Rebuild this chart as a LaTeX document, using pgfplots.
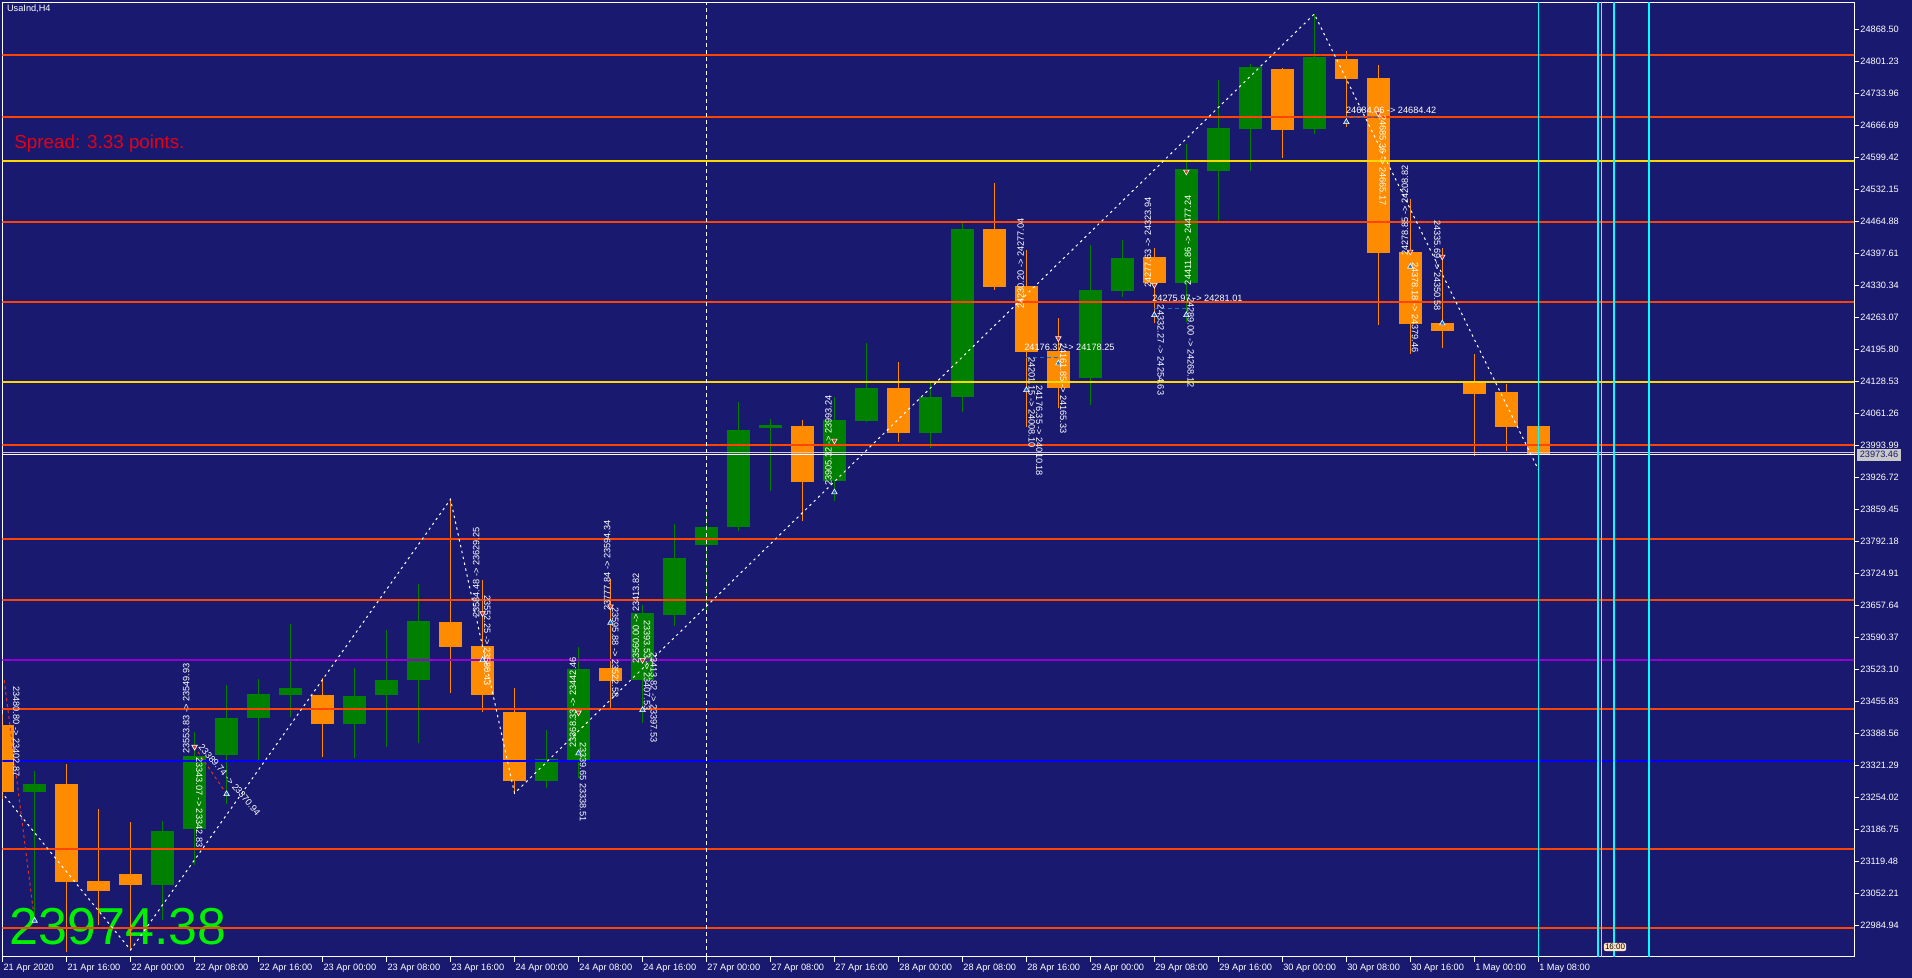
\documentclass[border=0pt]{standalone}
\usepackage{pgfplots}
\pgfplotsset{compat=1.18}
\usepackage{pgfplotstable}
\usepackage{fontspec}
\setmainfont{Liberation Sans}

\definecolor{bgnavy}{RGB}{25,25,112}
\definecolor{bull}{RGB}{0,128,0}
\definecolor{bear}{RGB}{255,140,0}
\definecolor{lvlred}{RGB}{255,69,0}
\definecolor{lvlgold}{RGB}{255,215,0}
\definecolor{lvlviolet}{RGB}{148,0,211}
\definecolor{lvlblue}{RGB}{0,0,255}
\definecolor{vcyan}{RGB}{0,255,255}
\definecolor{bidline}{RGB}{216,191,216}
\definecolor{spread}{RGB}{230,0,20}
\definecolor{bignum}{RGB}{0,240,0}
\definecolor{arrblue}{RGB}{30,110,200}
\definecolor{arrred}{RGB}{220,50,30}

\newcommand{\tf}{\fontsize{4.6}{5}\selectfont}

% H4 candles, n = bar index (0 = 21 Apr 08:00)
\pgfplotstableread{
n o h l c
1 23265.8 23309.3 23005.0 23282.0
5 23070.3 23204.2 22996.1 23183.2
6 23186.7 23390.7 23111.7 23341.4
7 23343.6 23489.4 23239.3 23420.7
8 23421.4 23502.6 23330.3 23471.2
9 23469.7 23618.3 23423.5 23483.8
11 23408.8 23525.2 23337.3 23466.9
12 23469.7 23605.7 23360.4 23500.6
13 23501.2 23702.4 23368.8 23624.7
17 23288.9 23395.5 23272.9 23334.5
18 23331.0 23569.3 23293.9 23523.7
20 23501.2 23658.0 23410.2 23641.5
21 23637.9 23828.6 23614.8 23757.1
22 23784.4 23858.0 23640.8 23822.3
23 23822.9 24085.0 23814.5 24026.2
24 24031.0 24049.3 23898.6 24036.7
26 23919.6 24094.9 23877.5 24047.2
27 24045.7 24208.4 24043.6 24114.4
29 24020.5 24127.0 23987.7 24095.5
30 24096.2 24462.0 24064.6 24448.3
34 24136.1 24414.4 24078.7 24320.5
35 24319.0 24425.6 24306.4 24387.7
37 24335.8 24627.4 24253.8 24574.8
38 24570.6 24761.9 24461.9 24661.0
39 24658.9 24795.6 24570.6 24789.2
41 24658.9 24900.7 24648.4 24810.3
}\bull
\pgfplotstableread{
n o h l c
0 23406.0 23430.0 23250.0 23265.8
2 23282.0 23324.0 22929.4 23076.6
3 23078.0 23228.8 22985.6 23057.6
4 23092.8 23201.4 22933.0 23070.3
10 23469.1 23504.2 23339.3 23408.8
14 23622.5 23880.4 23472.6 23570.6
15 23572.1 23710.8 23434.0 23469.7
16 23433.3 23483.1 23262.4 23288.9
19 23525.8 23712.9 23441.1 23499.1
25 24034.6 24047.2 23835.5 23917.5
28 24114.4 24169.1 24001.6 24020.5
31 24448.7 24545.0 24320.5 24327.4
32 24328.9 24404.5 24033.1 24190.8
33 24191.6 24261.0 24071.8 24115.1
36 24389.8 24408.7 24250.5 24335.8
40 24785.0 24786.5 24598.6 24656.8
42 24806.1 24822.9 24663.8 24764.0
43 24766.1 24793.5 24246.9 24398.3
44 24399.7 24511.8 24185.3 24249.0
45 24251.1 24408.1 24197.9 24234.3
46 24125.6 24186.0 23971.4 24102.5
47 24106.1 24122.9 23982.6 24033.1
48 24034.6 24040.0 23943.5 23973.46
}\bear

\pgfplotsset{
  wick/.style={draw=none, mark=none, forget plot,
    error bars/.cd, y dir=both, y explicit, error mark=none,
    error bar style={draw=#1, line width=0.5pt}},
  body/.style={draw=none, mark=none, forget plot,
    error bars/.cd, y dir=both, y explicit, error mark=none,
    error bar style={draw=#1, line width=11.35pt}},
  level/.style={draw=#1, line width=1pt, mark=none, forget plot},
}

\begin{document}
\begin{tikzpicture}[x=0.5pt,y=0.5pt]
\useasboundingbox (0,0) rectangle (1912,978);
\fill[bgnavy] (0,0) rectangle (1912,978);

% texts that the chart draws behind the bars
\node[anchor=west, inner sep=0pt, text=white, font=\tf] at (6.7,969) {UsaInd,H4};
\node[anchor=base west, inner sep=0pt, text=spread, font=\fontsize{9.4}{10}\selectfont] at (14,829) {Spread: 3.33 points.};
\node[anchor=base west, inner sep=0pt, text=bignum, font=\fontsize{26}{26}\selectfont] at (9.3,33) {23974.38};

\begin{axis}[
  at={(1.15pt,10.5pt)}, anchor=south west,
  scale only axis, width=925.85pt, height=477.35pt,
  xmin=-0.01, xmax=57.87, ymin=22918.3, ymax=24925.3,
  axis line style={white, line width=0.5pt},
  tick style={white, line width=0.5pt},
  tick align=outside, major tick length=2.5pt,
  xtick pos=left, ytick pos=right, yticklabel pos=right,
  xtick={0,2,...,48},
  xticklabels={21 Apr 2020,21 Apr 16:00,22 Apr 00:00,22 Apr 08:00,22 Apr 16:00,
    23 Apr 00:00,23 Apr 08:00,23 Apr 16:00,24 Apr 00:00,24 Apr 08:00,24 Apr 16:00,
    27 Apr 00:00,27 Apr 08:00,27 Apr 16:00,28 Apr 00:00,28 Apr 08:00,28 Apr 16:00,
    29 Apr 00:00,29 Apr 08:00,29 Apr 16:00,30 Apr 00:00,30 Apr 08:00,30 Apr 16:00,
    1 May 00:00,1 May 08:00},
  ytick={24868.50,24801.23,24733.96,24666.69,24599.42,24532.15,24464.88,24397.61,
    24330.34,24263.07,24195.80,24128.53,24061.26,23993.99,23926.72,23859.45,
    23792.18,23724.91,23657.64,23590.37,23523.10,23455.83,23388.56,23321.29,
    23254.02,23186.75,23119.48,23052.21,22984.94},
  yticklabels={24868.50,24801.23,24733.96,24666.69,24599.42,24532.15,24464.88,24397.61,
    24330.34,24263.07,24195.80,24128.53,24061.26,23993.99,23926.72,23859.45,
    23792.18,23724.91,23657.64,23590.37,23523.10,23455.83,23388.56,23321.29,
    23254.02,23186.75,23119.48,23052.21,22984.94},
  xticklabel style={font=\tf, text=white, anchor=north west, inner sep=0pt, xshift=0.3pt, yshift=-1pt},
  yticklabel style={font=\tf, text=white, anchor=west, inner sep=0pt, xshift=0.5pt},
  clip=true,
]

% wicks and bodies
\addplot[wick=bull] table[x=n, y expr={(\thisrow{h}+\thisrow{l})/2}, y error expr={(\thisrow{h}-\thisrow{l})/2}] {\bull};
\addplot[wick=bear] table[x=n, y expr={(\thisrow{h}+\thisrow{l})/2}, y error expr={(\thisrow{h}-\thisrow{l})/2}] {\bear};
\addplot[body=bull] table[x=n, y expr={(\thisrow{o}+\thisrow{c})/2}, y error expr={abs(\thisrow{c}-\thisrow{o})/2}] {\bull};
\addplot[body=bear] table[x=n, y expr={(\thisrow{o}+\thisrow{c})/2}, y error expr={abs(\thisrow{c}-\thisrow{o})/2}] {\bear};

% horizontal levels
\addplot[level=lvlred] coordinates {(-1,24815.0) (60,24815.0)};
\addplot[level=lvlred] coordinates {(-1,24684.8) (60,24684.8)};
\addplot[level=lvlgold] coordinates {(-1,24592.3) (60,24592.3)};
\addplot[level=lvlred] coordinates {(-1,24462.8) (60,24462.8)};
\addplot[level=lvlred] coordinates {(-1,24295.9) (60,24295.9)};
\addplot[level=lvlgold] coordinates {(-1,24127.7) (60,24127.7)};
\addplot[level=lvlred] coordinates {(-1,23995.3) (60,23995.3)};
\addplot[level=lvlred] coordinates {(-1,23797.6) (60,23797.6)};
\addplot[level=lvlred] coordinates {(-1,23669.3) (60,23669.3)};
\addplot[level=lvlviolet] coordinates {(-1,23542.6) (60,23542.6)};
\addplot[level=lvlred] coordinates {(-1,23440.3) (60,23440.3)};
\addplot[level=lvlblue] coordinates {(-1,23331.0) (60,23331.0)};
\addplot[level=lvlred] coordinates {(-1,23146.0) (60,23146.0)};
\addplot[level=lvlred] coordinates {(-1,22980.0) (60,22980.0)};
% bid / ask
\addplot[draw=bidline, line width=0.5pt, forget plot] coordinates {(-1,23978.5) (60,23978.5)};
\addplot[draw=white, line width=0.5pt, forget plot] coordinates {(-1,23974.3) (60,23974.3)};

% vertical lines
\addplot[draw=white, line width=0.5pt, dash pattern=on 2pt off 1.5pt, forget plot] coordinates {(22,22800) (22,25000)};
\addplot[draw=vcyan, line width=0.5pt, forget plot] coordinates {(48,22800) (48,25000)};
\addplot[draw=vcyan, line width=0.9pt, forget plot] coordinates {(49.86,22800) (49.86,25000)};
\addplot[draw=bidline, line width=0.6pt, forget plot] coordinates {(49.98,22800) (49.98,25000)};
\addplot[draw=vcyan, line width=0.9pt, forget plot] coordinates {(50.36,22800) (50.36,25000)};
\addplot[draw=vcyan, line width=0.9pt, forget plot] coordinates {(51.47,22800) (51.47,25000)};

% zigzag
\addplot[draw=white, line width=0.5pt, dash pattern=on 1.2pt off 1.8pt, forget plot]
  coordinates {(-1,23344) (4,22933.0) (14,23880.4) (16,23262.4) (41,24900.7) (48,23943.5)};

% trade lines
\addplot[draw=arrred, line width=0.5pt, dash pattern=on 1.5pt off 1.5pt, forget plot] coordinates {(0.05,23500) (0.97,23010)};
\addplot[draw=arrred, line width=0.5pt, dash pattern=on 1.5pt off 1.5pt, forget plot] coordinates {(6,23360) (7,23261)};
\addplot[draw=arrblue, line width=0.5pt, dash pattern=on 2pt off 1.5pt, forget plot] coordinates {(32,24179) (33,24179)};
\addplot[draw=arrblue, line width=0.5pt, dash pattern=on 2pt off 1.5pt, forget plot] coordinates {(36,24282) (37,24282)};
\addplot[draw=arrblue, line width=0.5pt, dash pattern=on 2pt off 1.5pt, forget plot] coordinates {(42,24683) (43,24683)};

% deal arrows
\addplot[only marks, mark=triangle*, mark size=1.6pt, mark options={fill=arrblue, draw=white, line width=0.3pt}, forget plot]
  coordinates {(1,22994.6) (7,23260.9) (26,23895.2) (42,24673.6) (44,24369.5) (18,23346.5)
    (33,24166.3) (32,24110.3) (36,24267.9) (37,24267.9) (45,24250.4) (20,23437.5) (19,23621) (15,23542.6)};
\addplot[only marks, mark=triangle*, mark size=1.6pt, mark options={fill=arrred, draw=white, line width=0.3pt, rotate=180}, forget plot]
  coordinates {(6,23360) (26,24003.7) (37,24569.2) (45,24390.5) (44,24401) (18,23432)
    (15,23640.8) (19,23655) (20,23542.6) (33,24218.9) (36,24331) (43,24691.9)};

% deal texts
\begin{scope}[every node/.style={text=white, font=\tf, inner sep=0pt}]
\node[anchor=west] at (axis cs:41.98,24697.4) {24684.06 -> 24684.42};
\node[anchor=east] at (axis cs:38.77,24303.6) {24275.97 -> 24281.01};
\node[anchor=east] at (axis cs:34.77,24199.2) {24176.37 -> 24178.25};
\node[anchor=west, rotate=-90] at (axis cs:43.14,24688.3) {24685.36 -> 24665.17};
\node[anchor=west, rotate=-90] at (axis cs:44.15,24379.3) {24378.18 -> 24379.46};
\node[anchor=west, rotate=-90] at (axis cs:37.14,24305.8) {24289.00 -> 24268.12};
\node[anchor=east, rotate=90] at (axis cs:31.82,24471.8) {24230.20 -> 24277.04};
\node[anchor=east, rotate=90] at (axis cs:25.81,24099.7) {23905.32 -> 23993.24};
\node[anchor=east, rotate=90] at (axis cs:35.80,24516.0) {24277.63 -> 24323.94};
\node[anchor=west, rotate=-90] at (axis cs:0.43,23488.0) {23480.80 -> 23402.87};
\node[anchor=west, rotate=-90] at (axis cs:15.15,23679.3) {23552.25 -> 23580.43};
\node[anchor=east, rotate=90] at (axis cs:14.80,23822.2) {23584.48 -> 23629.25};
\node[anchor=west, rotate=-90] at (axis cs:18.14,23370.3) {23339.65 23338.51};
\node[anchor=east, rotate=90] at (axis cs:17.83,23549.6) {23368.33 -> 23442.46};
\node[anchor=west, rotate=-90] at (axis cs:20.14,23626.7) {23393.53 -> 23407.53};
\node[anchor=west, rotate=-90] at (axis cs:33.15,24209.0) {24161.85 -> 24165.33};
\node[anchor=west, rotate=-90] at (axis cs:32.17,24179.6) {24201.15 -> 24008.10};
\node[anchor=west, rotate=-90] at (axis cs:32.40,24120.0) {24176.35 -> 24010.18};
\node[anchor=west, rotate=-50] at (axis cs:6.18,23364.0) {23389.74 -> 23370.94};
\node[anchor=west, rotate=-90] at (axis cs:6.15,23339.4) {23343.07 -> 23342.83};
\node[anchor=east, rotate=90] at (axis cs:5.74,23536.3) {23553.83 -> 23549.93};
\node[anchor=east, rotate=90] at (axis cs:43.83,24583.2) {24278.85 -> 24208.82};
\node[anchor=west, rotate=-90] at (axis cs:44.84,24467.6) {24335.69 -> 24350.58};
\node[anchor=east, rotate=90] at (axis cs:18.90,23837.0) {23777.84 -> 23594.34};
\node[anchor=west, rotate=-90] at (axis cs:19.15,23654.0) {23595.88 -> 23522.58};
\node[anchor=east, rotate=90] at (axis cs:19.80,23725.5) {23560.00 -> 23413.82};
\node[anchor=east, rotate=90] at (axis cs:37.05,24520.0) {24411.86 -> 24477.24};
\node[anchor=west, rotate=-90] at (axis cs:36.20,24290.0) {24332.27 -> 24254.63};
\node[anchor=west, rotate=-90] at (axis cs:20.35,23560.0) {23413.82 -> 23397.53};
\end{scope}
\end{axis}

% current price tag and time tag
\node[fill={rgb,255:red,200;green,200;blue,200}, text=bgnavy, font=\tf, inner sep=0.6pt, minimum width=22pt, minimum height=6pt] at (1879,523.3) {23973.46};
\node[fill={rgb,255:red,255;green,228;blue,196}, text=black, font=\fontsize{4}{4.5}\selectfont, inner sep=0.6pt, rounded corners=1pt] at (1615,31) {16:00};
\end{tikzpicture}
\end{document}
